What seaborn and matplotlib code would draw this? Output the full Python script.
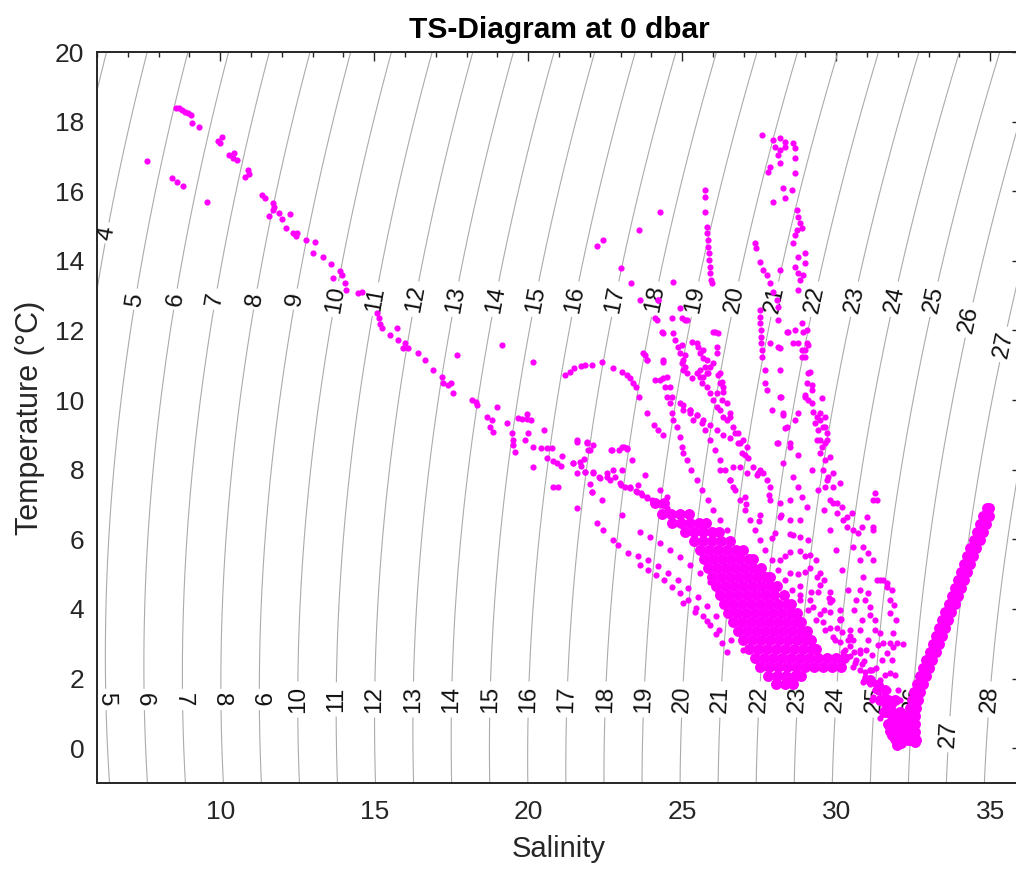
import numpy as np
import pandas as pd
import matplotlib
matplotlib.use("Agg")
import matplotlib.pyplot as plt
import seaborn as sns

# ---------------- data (salinity S, temperature T) ----------------
trail_S = [7.62, 8.55, 8.65, 8.75, 8.85, 8.95, 9.05, 9.1, 9.3, 8.43, 8.6, 8.8, 9.57, 9.93, 10.05, 10.0,
           10.3, 10.45, 10.55, 10.4, 10.9, 10.8, 10.95, 11.35, 11.45, 11.7, 11.7, 11.75, 11.6, 11.9, 12.0,
           12.27, 12.15, 12.37, 12.5, 12.45, 12.8, 13.08, 13.0, 13.35, 13.6, 13.67, 13.9, 13.95, 14.05,
           14.1, 14.47, 14.6, 15.1, 15.15, 15.2, 15.25, 15.5, 15.74, 15.78, 16.0, 16.1, 15.94, 16.42,
           16.65, 16.9, 17.2, 17.23, 17.4, 17.5, 17.56, 17.69, 18.18, 18.34, 18.3, 18.66, 18.82, 18.76,
           18.86, 19.0, 19.15, 19.3, 19.47, 19.5, 19.57, 19.52, 19.67, 19.8, 19.95, 20.1, 19.88, 19.95, 20.0]
trail_T = [16.87, 18.40, 18.38, 18.33, 18.28, 18.25, 18.2, 17.95, 17.85, 16.38, 16.27, 16.15, 15.7, 17.45,
           17.57, 17.4, 17.04, 17.1, 16.9, 16.95, 16.6, 16.4, 16.5, 15.9, 15.8, 15.65, 15.45, 15.55, 15.3,
           15.37, 15.2, 15.36, 14.94, 14.8, 14.8, 14.72, 14.6, 14.55, 14.22, 14.1, 13.9, 13.5, 13.7, 13.6,
           13.36, 13.16, 13.07, 13.1, 12.5, 12.35, 12.2, 12.07, 11.87, 12.07, 11.72, 11.64, 11.5, 11.5,
           11.35, 11.15, 10.86, 10.66, 10.49, 10.43, 10.5, 10.2, 11.29, 10.0, 9.86, 9.95, 9.51, 9.43, 9.22,
           9.08, 9.8, 11.58, 9.34, 9.05, 8.85, 8.5, 8.7, 9.48, 9.45, 9.45, 9.43, 8.85, 9.6, 9.05]

drift_S = [20.16, 20.4, 20.6, 20.78, 20.5, 20.16, 20.6, 20.8, 20.95, 21.05, 21.1, 20.8, 20.98, 21.6, 21.45,
           21.7, 21.8, 21.9, 22.0, 21.84, 22.1, 22.3, 22.55, 22.65, 22.0, 22.07, 22.7, 22.95, 23.1, 23.2,
           23.05, 23.0, 23.3, 23.5, 23.65, 23.86, 24.1, 24.2, 24.37, 23.85, 24.05, 24.3, 24.5, 20.16,
           21.58, 21.91, 22.10, 21.94, 22.72, 23.04, 23.21, 23.37, 21.45, 21.68, 21.58, 21.84, 22.10,
           22.33, 22.56, 22.75, 22.82, 22.07, 22.40, 21.58, 22.23, 22.43, 23.04, 22.75, 22.91,
           22.98, 23.14, 23.31, 23.53, 23.70, 23.86, 24.02, 24.18, 23.56, 23.79, 24.28, 24.51]
drift_T = [8.65, 8.62, 8.62, 8.62, 9.13, 8.07, 8.35, 8.25, 8.2, 8.1, 8.4, 7.5, 7.5, 8.85, 8.19, 8.1, 8.3,
           8.8, 8.56, 7.93, 7.93, 7.8, 7.9, 7.7, 7.6, 7.35, 8.56, 8.56, 8.65, 8.6, 7.99, 7.56, 7.5, 7.4,
           7.33, 9.63, 9.28, 9.15, 8.99, 7.2, 7.1, 7.0, 6.9, 11.1,
           8.79, 8.76, 8.70, 8.56, 8.56, 8.65, 8.62, 8.28, 8.19, 8.22, 7.90, 7.93, 7.90,
           7.76, 7.79, 7.99, 7.79, 7.36, 7.13, 6.90, 6.46, 6.26, 6.69, 5.98, 5.83,
           7.62, 7.50, 7.47, 7.36, 7.27, 7.21, 7.13, 7.04, 7.56, 7.84, 7.41, 7.21]

loop_S = [21.2, 21.36, 21.5, 21.7, 21.85, 22.07, 22.4, 22.75, 23.05, 23.2, 23.3, 23.4, 23.5, 23.6,
          22.23, 22.43, 23.0, 23.34, 23.63, 23.6, 24.28, 24.2, 24.7, 23.79, 23.85, 23.73, 24.38]
loop_T = [10.72, 10.8, 10.92, 10.98, 11.0, 11.0, 11.1, 10.92, 10.8, 10.72, 10.63, 10.5, 10.37, 10.09,
          14.42, 14.6, 13.8, 13.36, 12.87, 14.88, 15.4, 12.87, 13.4, 11.3, 11.15, 11.35, 11.09]

mid_S = [23.86, 24.12, 24.38, 24.67, 24.70, 24.99, 24.93, 24.38, 24.99, 25.09, 25.32, 25.48, 24.99, 25.03,
         25.68, 25.32, 25.58, 25.68, 25.81, 25.90, 26.16, 26.13, 26.16, 26.29, 25.51, 25.58, 25.74, 25.84,
         26.06, 26.13, 26.23, 26.32, 24.21, 24.18, 25.09, 24.34, 24.77, 24.86, 24.93, 25.03, 25.09, 25.16,
         24.28, 24.51, 24.60, 24.67, 24.93, 25.03, 25.25, 25.35, 25.48, 25.58, 25.64, 25.81, 25.90, 26.0,
         26.13, 26.23, 26.32, 25.16, 25.68, 26.0, 25.81, 26.0, 26.23, 26.32, 26.13, 26.29, 26.45, 26.55,
         26.45, 26.65, 26.81, 26.98, 25.03, 25.25, 25.48, 25.68, 25.90, 26.13, 26.32, 26.55, 26.81,
         24.12, 24.38, 24.44, 24.5, 24.6, 24.67, 24.7, 24.83, 24.93, 25.0, 25.02, 25.15, 25.3, 25.47,
         25.64, 25.84, 26.0, 26.23, 26.45, 25.25, 25.48, 25.64, 25.74, 25.9, 26.06, 26.23, 26.39, 26.55,
         26.71, 26.88, 27.04, 27.2, 26.55, 26.71, 26.88, 26.94, 27.11, 27.14, 26.65, 26.88, 27.11, 27.30,
         27.46, 27.62, 27.75]
mid_T = [11.15, 12.36, 11.92, 12.36, 11.92, 12.36, 12.64, 11.15, 11.58, 11.29, 11.67, 11.64, 11.06, 10.86,
         11.44, 10.63, 10.86, 10.66, 11.15, 10.95, 11.92, 11.52, 10.72, 10.52, 11.52, 11.35, 10.95, 10.78,
         11.95, 11.35, 10.49, 10.23, 12.87, 12.30, 12.30, 11.95, 11.72, 11.52, 11.35, 11.15, 10.95, 10.78,
         10.57, 10.66, 10.37, 10.09, 9.91, 9.71, 9.63, 9.43, 10.78, 10.66, 10.49, 10.37, 10.20, 10.0,
         9.80, 9.71, 9.51, 12.30, 11.21, 11.95, 10.78, 11.06, 10.78, 10.37, 10.20, 10.0, 9.91, 9.63,
         9.43, 9.22, 9.05, 8.85, 9.86, 9.71, 9.57, 9.43, 9.28, 9.14, 8.99, 8.91, 8.76,
         10.57, 10.63, 10.37, 10.09, 9.91, 9.63, 9.43, 9.22, 8.94, 8.65, 8.48, 8.28, 7.99, 7.7,
         7.41, 7.13, 6.84, 6.55, 6.26, 9.71, 9.57, 9.34, 9.14, 8.85, 8.56, 8.28, 7.99, 7.7,
         7.41, 7.13, 6.84, 6.55, 9.51, 9.05, 8.76, 8.48, 8.65, 8.34, 8.07, 8.07, 7.90, 8.07,
         7.90, 7.90, 7.70]

vert_S = [25.74, 25.74, 25.74, 25.81, 25.81, 25.84, 25.84, 25.87, 25.87, 25.90, 25.90, 25.94, 25.97]
vert_T = [16.03, 15.83, 15.40, 14.97, 14.80, 14.60, 14.40, 14.22, 14.02, 13.82, 13.65, 13.45, 13.36]

upper_S = [27.59, 27.95, 28.18, 28.34, 28.60, 28.01, 28.18, 28.34, 28.66, 28.11, 28.66, 28.18, 27.85,
           27.79, 28.66, 28.27, 28.56, 27.95, 28.34, 28.73, 28.76, 28.82, 28.73, 28.89, 28.66, 27.36,
           27.40, 28.60, 28.99, 28.76, 28.99, 28.18, 28.66, 28.76, 28.92, 28.82, 28.76, 27.53, 27.62,
           27.75, 27.85, 27.95, 28.08, 28.11, 27.53, 27.53, 27.53, 27.56, 27.56, 27.56, 27.59, 27.59,
           27.85, 28.18, 28.18, 28.43, 28.11, 27.69, 27.69, 27.75, 28.89, 29.05, 28.76, 28.89, 28.99,
           29.08, 29.08, 29.05, 29.21, 28.99, 29.08, 29.21, 28.18, 27.92, 28.27, 28.76, 28.66, 28.40,
           28.11, 28.50, 29.25, 29.38, 29.47, 29.31, 29.57, 29.41, 29.70, 29.47, 29.64, 28.40, 28.60,
           28.66, 28.92, 29.05, 28.99, 28.89, 28.11, 28.21, 28.27, 28.34, 28.08, 28.50, 28.76, 28.27]
upper_T = [17.62, 17.47, 17.53, 17.41, 17.38, 17.27, 17.18, 17.27, 17.24, 17.04, 16.95, 16.81, 16.70,
           16.55, 16.52, 16.09, 16.03, 15.69, 15.80, 15.46, 15.26, 15.09, 14.89, 14.94, 14.74, 14.51,
           14.37, 14.51, 14.22, 14.11, 13.94, 13.73, 13.82, 13.65, 13.59, 13.45, 13.16, 13.97, 13.73,
           13.59, 13.36, 13.10, 12.87, 12.67, 12.59, 12.38, 12.21, 12.01, 11.81, 11.64, 11.44, 11.24,
           11.64, 11.49, 10.86, 11.95, 12.30, 10.86, 10.49, 10.29, 12.21, 12.01, 11.64, 11.44, 11.24,
           11.58, 10.78, 10.49, 10.29, 10.09, 10.0, 9.91, 10.09, 9.71, 9.63, 9.63, 9.43, 9.22,
           8.76, 8.76, 9.66, 9.51, 9.43, 9.34, 9.22, 9.14, 9.05, 8.85, 8.76, 11.95, 11.64,
           12.01, 11.95, 11.64, 11.44, 11.24, 11.52, 10.09, 9.57, 9.20, 8.76, 8.65, 8.42, 8.19]

right_S = [29.15, 29.21, 28.99, 29.54, 29.47, 29.64, 29.64, 29.38, 29.54, 29.70, 29.47, 29.64, 29.80,
           29.57, 29.73, 29.90, 29.64, 29.90, 30.12, 29.80, 30.03, 30.19, 30.03, 30.35, 30.52, 30.35,
           30.55, 30.71, 30.84, 30.87, 31.03, 31.20, 31.26, 31.20, 31.0, 31.20, 31.42, 31.65, 28.60,
           28.76, 28.89, 29.05, 29.70, 29.90, 30.22, 30.55, 30.77, 30.87, 31.03, 31.10, 31.26, 31.42,
           31.65, 31.75, 31.32, 31.52, 31.65, 31.75, 31.75, 31.85, 31.85, 31.32, 31.20, 31.52, 31.75,
           31.98, 32.17, 30.93, 31.10, 31.26, 31.36, 31.49, 31.58, 31.68, 30.77, 30.64, 30.84, 31.03,
           31.16, 31.29, 31.42, 31.55, 31.81, 31.91, 32.01, 32.07, 31.94, 31.88, 31.81]
right_T = [10.80, 10.43, 10.14, 10.06, 9.63, 9.51, 9.22, 8.85, 8.65, 8.85, 8.48, 8.28, 8.36,
           7.99, 7.79, 7.90, 7.50, 7.50, 7.62, 7.13, 7.04, 6.92, 6.75, 6.64, 6.75, 6.35,
           6.26, 6.18, 6.35, 5.78, 5.60, 5.40, 7.33, 7.13, 6.64, 6.26, 4.83, 4.74, 7.79,
           7.50, 7.21, 6.92, 7.70, 7.04, 6.55, 5.78, 5.40, 4.91, 4.45, 4.05, 3.68, 3.30,
           2.73, 2.16, 4.83, 4.83, 4.63, 4.25, 3.88, 3.30, 2.90, 7.13, 6.35, 3.02, 3.02,
           3.02, 3.00, 4.25, 3.82, 3.39, 2.96, 2.53, 2.10, 1.67, 4.54, 4.25, 3.68, 3.10,
           2.67, 2.30, 1.95, 1.52, 2.53, 2.10, 1.67, 1.38, 3.68, 4.11, 4.54]

lines_S = [27.53, 27.85, 28.18, 28.50, 28.82, 29.15, 29.47, 29.80, 30.12, 30.45, 30.77, 31.10, 31.36,
           31.58, 31.75, 28.50, 28.82, 29.08, 29.34, 29.60, 29.86, 30.12, 30.38, 30.64, 30.90, 31.16,
           31.42, 26.55, 27.04, 27.53, 28.01, 28.50, 28.99, 29.41, 29.80, 30.19, 30.58, 30.94, 31.26,
           31.55, 28.18, 28.50, 28.82, 29.15, 29.47, 29.80, 30.12, 30.45, 30.77, 31.10, 31.42, 28.82,
           29.25, 29.57, 29.90, 30.22, 30.55, 30.87, 31.20, 23.63, 23.95, 24.28, 24.60, 24.93, 25.25,
           25.58, 25.90, 26.16, 26.42, 26.65, 23.63, 23.89, 24.15, 24.41, 24.67, 24.93, 25.19, 25.45,
           25.68, 25.90, 26.10, 26.29, 26.45, 23.24, 23.56, 23.89, 24.21, 24.54, 24.86, 25.19, 25.51,
           25.81, 26.10, 25.03, 25.42, 25.81, 26.19, 26.58, 26.98, 27.36, 27.75, 28.14,
           27.36, 27.53, 27.69, 27.92, 28.1, 28.34, 28.56, 28.82, 29.08, 29.34, 29.64, 29.96, 30.29,
           30.6, 30.94, 31.26, 31.49, 31.68]
lines_T = [7.99, 7.50, 7.04, 6.55, 6.06, 5.54, 5.03, 4.48, 3.97, 3.39, 2.82, 2.24, 1.67,
           1.15, 0.75, 7.13, 6.55, 5.98, 5.40, 4.83, 4.25, 3.68, 3.10, 2.53, 1.95, 1.38,
           0.86, 7.70, 7.21, 6.69, 6.18, 5.63, 5.06, 4.48, 3.91, 3.33, 2.76, 2.18, 1.67,
           1.15, 5.40, 5.03, 4.66, 4.25, 3.85, 3.45, 3.05, 2.64, 2.24, 1.84, 1.44, 4.40,
           4.05, 3.62, 3.19, 2.76, 2.33, 1.90, 1.46, 6.21, 6.06, 5.89, 5.69, 5.49, 5.26,
           5.03, 4.78, 4.49, 4.20, 3.91, 5.26, 5.11, 4.97, 4.83, 4.63, 4.45, 4.25, 4.02,
           3.79, 3.53, 3.28, 3.02, 2.76, 5.60, 5.52, 5.40, 5.23, 5.03, 4.83, 4.60, 4.34,
           4.08, 3.79, 4.17, 3.91, 3.65, 3.39, 3.10, 2.82, 2.53, 2.30, 2.13,
           6.26, 5.98, 5.69, 5.40, 5.11, 4.83, 4.54, 4.25, 3.97, 3.68, 3.39, 3.10, 2.82,
           2.44, 2.04, 1.67, 1.29, 0.95]

# further streaks of the fan converging on the V bottom
fan_S = [27.04, 27.43, 27.82, 28.21, 28.60, 28.99, 29.38, 29.77, 30.16, 30.55, 30.90, 31.23, 31.49,
         27.85, 28.18, 28.50, 28.82, 29.15, 29.47, 29.80, 30.12, 30.45, 30.77, 31.10, 31.42, 31.65,
         29.21, 29.41, 29.60, 29.80, 29.99, 30.19, 30.38, 30.58, 30.77, 30.97, 31.16, 31.36, 31.55,
         26.23, 26.65, 27.07, 27.49, 27.92, 28.34, 28.76, 29.18, 29.60, 30.03, 30.45, 30.84, 31.16, 31.42,
         31.36, 31.85, 32.07, 31.85, 32.23]
fan_T = [8.42, 7.84, 7.27, 6.69, 6.12, 5.52, 4.91, 4.31, 3.71, 3.10, 2.50, 1.90, 1.32,
         7.13, 6.64, 6.15, 5.66, 5.17, 4.68, 4.20, 3.71, 3.22, 2.73, 2.24, 1.72, 1.24,
         7.99, 7.41, 6.84, 6.26, 5.69, 5.11, 4.54, 3.97, 3.39, 2.82, 2.24, 1.67, 1.09,
         7.99, 7.50, 7.01, 6.52, 6.03, 5.52, 5.00, 4.48, 3.97, 3.45, 2.93, 2.42, 1.90, 1.38,
         1.61, 1.24, 0.86, 0.57, 0.37]

# dense core of the main cloud, read row by row (one temperature per row)
band_row_T = [7.04, 6.72, 6.46, 6.21, 5.95, 5.69, 5.43, 5.17, 4.91, 4.65, 4.40, 4.14, 3.88, 3.62,
              3.36, 3.10, 2.84, 2.59, 2.33, 2.07, 1.84]
band_row_S = [
    [24.12, 24.41],
    [24.34, 24.64, 24.93, 25.22],
    [24.67, 24.96, 25.25, 25.54, 25.77],
    [25.09, 25.38, 25.67, 25.97, 26.19],
    [25.38, 25.67, 25.97, 26.26, 26.55],
    [25.58, 25.87, 26.16, 26.45, 26.75, 26.97],
    [25.71, 26.0, 26.29, 26.58, 26.88, 27.17, 27.30],
    [25.84, 26.13, 26.42, 26.71, 27.01, 27.30, 27.56],
    [25.97, 26.26, 26.55, 26.84, 27.14, 27.43, 27.72, 27.85],
    [26.10, 26.39, 26.68, 26.97, 27.27, 27.56, 27.85, 28.08],
    [26.23, 26.52, 26.81, 27.10, 27.40, 27.69, 27.98, 28.30],
    [26.36, 26.65, 26.94, 27.23, 27.53, 27.82, 28.11, 28.40, 28.53],
    [26.49, 26.78, 27.07, 27.36, 27.66, 27.95, 28.24, 28.53, 28.73],
    [26.65, 26.94, 27.23, 27.53, 27.82, 28.11, 28.40, 28.69, 28.86],
    [26.81, 27.10, 27.40, 27.69, 27.98, 28.27, 28.56, 28.86, 29.05],
    [26.97, 27.27, 27.56, 27.85, 28.14, 28.43, 28.73, 29.02, 29.18],
    [27.17, 27.46, 27.75, 28.04, 28.34, 28.63, 28.92, 29.21, 29.34],
    [27.36, 27.66, 27.95, 28.24, 28.53, 28.82, 29.11, 29.41, 29.70, 29.99, 30.25],
    [27.53, 27.82, 28.11, 28.40, 28.69, 28.99, 29.28, 29.57, 29.86, 30.16],
    [27.79, 28.08, 28.37, 28.66, 28.86],
    [28.04, 28.34, 28.60],
]

# right arm of the V (two edges of the band) and the V bottom
vee_T = [6.90, 6.67, 6.44, 6.21, 5.98, 5.75, 5.52, 5.29, 5.06, 4.83, 4.60, 4.37, 4.14, 3.91,
         3.68, 3.45, 3.22, 2.99, 2.76, 2.53, 2.30, 2.07, 1.84, 1.61, 1.38, 1.15, 0.92, 0.69,
         0.46, 0.23]
vee_left_S = [34.90, 34.77, 34.68, 34.58, 34.48, 34.35, 34.25, 34.16, 34.06, 33.96, 33.86, 33.77, 33.67,
              33.54, 33.44, 33.34, 33.25, 33.15, 33.05, 32.92, 32.83, 32.73, 32.63, 32.53, 32.47, 32.40,
              32.37, 32.37, 32.37, 32.40]
vee_right_S = [34.96, 34.95, 34.86, 34.76, 34.66, 34.53, 34.43, 34.34, 34.24, 34.14, 34.04, 33.95, 33.85,
               33.72, 33.62, 33.52, 33.43, 33.33, 33.23, 33.10, 33.01, 32.91, 32.81, 32.71, 32.65, 32.58,
               32.55, 32.55, 32.55, 32.58]
bottom_S = [31.10, 31.36, 31.58, 31.42, 31.68, 31.91, 31.55, 31.81, 32.07, 31.68, 31.94, 32.20,
            31.81, 32.07, 31.98, 32.33, 32.56, 31.75, 32.0, 31.9, 32.15, 31.7, 32.2, 31.85, 32.1]
bottom_T = [1.95, 1.81, 1.67, 1.38, 1.38, 1.38, 1.03, 1.03, 1.03, 0.69, 0.69, 0.69,
            0.37, 0.37, 0.09, 0.23, 0.17, 0.5, 0.6, 0.25, 0.5, 1.2, 0.9, 0.85, 0.15]

contour_levels = list(range(0, 31))
upper_label_levels = [4, 5, 6, 7, 8, 9, 10, 11, 12, 13, 14, 15, 16, 17, 18, 19, 20, 21, 22, 23, 24, 25, 26, 27]
upper_label_temps = [14.8] + [12.9] * 21 + [12.3, 11.6]
lower_label_levels = [5, 6, 7, 8, 9, 10, 11, 12, 13, 14, 15, 16, 17, 18, 19, 20, 21, 22, 23, 24, 25, 26, 27, 28]
lower_label_temps = [1.4] * 22 + [0.4, 1.4]


# ---------------- helpers ----------------
def sigma_t(S, T):
    """UNESCO EOS-80 density anomaly at p = 0."""
    rw = (999.842594 + 6.793952e-2 * T - 9.095290e-3 * T**2 + 1.001685e-4 * T**3
          - 1.120083e-6 * T**4 + 6.536332e-9 * T**5)
    A = 8.24493e-1 - 4.0899e-3 * T + 7.6438e-5 * T**2 - 8.2467e-7 * T**3 + 5.3875e-9 * T**4
    B = -5.72466e-3 + 1.0227e-4 * T - 1.6546e-6 * T**2
    C = 4.8314e-4
    return rw + A * S + B * S**1.5 + C * S**2 - 1000.0


def salinity_on_level(level, T):
    s = np.linspace(0.0, 42.0, 42001)
    sig = sigma_t(s, T)
    return float(s[np.argmin(np.abs(sig - level))])


# ---------------- figure ----------------
sns.set_theme(style="white")
plt.rcParams["font.family"] = ["Liberation Sans", "DejaVu Sans"]
plt.rcParams["axes.edgecolor"] = "#262626"

W, H = 1016, 871
fig = plt.figure(figsize=(W / 100, H / 100), dpi=100)
ax = fig.add_axes([97 / W, (H - 783) / H, 924 / W, (783 - 52) / H])

sg = np.linspace(4.0, 38.0, 500)
tg = np.linspace(-2.0, 21.0, 400)
SS, TT = np.meshgrid(sg, tg)
cs = ax.contour(SS, TT, sigma_t(SS, TT), levels=contour_levels, colors="#ababab",
                linewidths=0.8, zorder=1)

manual = [(salinity_on_level(l, t), t) for l, t in zip(upper_label_levels, upper_label_temps)]
manual += [(salinity_on_level(l, t), t) for l, t in zip(lower_label_levels, lower_label_temps)]
ax.clabel(cs, inline=True, fontsize=17.5, fmt="%d", colors="#111111",
          manual=manual, inline_spacing=3)

band_S = [s for row in band_row_S for s in row]
band_T = [t for row, t in zip(band_row_S, band_row_T) for _ in row]

small = pd.DataFrame({
    "S": trail_S + drift_S + loop_S + mid_S + vert_S + upper_S + right_S + lines_S + fan_S,
    "T": trail_T + drift_T + loop_T + mid_T + vert_T + upper_T + right_T + lines_T + fan_T,
})
dense = pd.DataFrame({
    "S": band_S + vee_left_S + vee_right_S + bottom_S,
    "T": band_T + vee_T + vee_T + bottom_T,
})

sns.scatterplot(data=dense, x="S", y="T", color="#ff00ff", s=62, marker="o",
                linewidth=0, ax=ax, zorder=3, legend=False)
sns.scatterplot(data=small, x="S", y="T", color="#ff00ff", s=20, marker="o",
                linewidth=0, ax=ax, zorder=4, legend=False)

ax.set_xlim(6, 36)
ax.set_ylim(-1, 20)
ax.set_xticks([10, 15, 20, 25, 30, 35])
ax.set_xticks(np.arange(6, 37, 1), minor=True)
ax.set_yticks(np.arange(0, 21, 2))
ax.set_yticks(np.arange(-1, 20.01, 0.5), minor=True)
ax.tick_params(which="both", direction="in", top=True, right=True, colors="#262626",
               labelcolor="#262626", labelsize=19, width=1.0)
ax.tick_params(which="major", length=6.5)
ax.tick_params(which="minor", length=3.6)
ax.tick_params(axis="y", pad=9)
ax.tick_params(axis="x", pad=12)
for sp in ax.spines.values():
    sp.set_visible(True)
    sp.set_linewidth(1.4)
    sp.set_color("#262626")

ax.set_xlabel("Salinity", fontsize=21, color="#262626", labelpad=8)
ax.set_ylabel("Temperature (°C)", fontsize=22, color="#262626", labelpad=7)
ax.set_title("TS-Diagram at 0 dbar", fontsize=21.5, fontweight="bold", color="black", pad=10)

fig.savefig("out.png", dpi=100)
